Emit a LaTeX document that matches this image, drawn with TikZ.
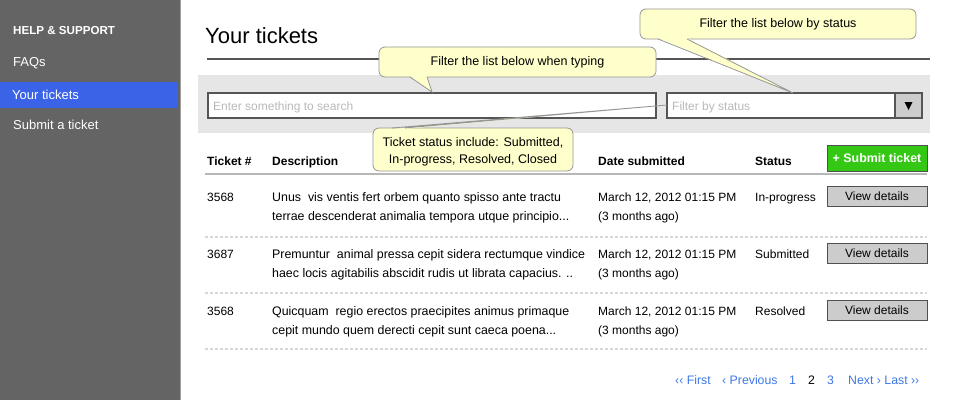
\documentclass[tikz,border=0pt]{standalone}
\usepackage{fontspec}
\setmainfont{Liberation Sans}
\newcommand\fsz[1]{\fontsize{#1}{#1}\selectfont}
\definecolor{side}{RGB}{100,100,100}
\definecolor{sideedge}{RGB}{160,160,160}
\definecolor{selblue}{RGB}{59,99,232}
\definecolor{band}{RGB}{230,230,230}
\definecolor{note}{RGB}{255,255,204}
\definecolor{noteline}{RGB}{150,150,150}
\definecolor{btngray}{RGB}{204,204,204}
\definecolor{btnline}{RGB}{80,80,80}
\definecolor{okgreen}{RGB}{52,200,20}
\definecolor{link}{RGB}{62,120,232}
\definecolor{ph}{RGB}{185,185,185}
\definecolor{sepline}{RGB}{215,215,215}
\definecolor{boxline}{RGB}{85,85,85}
\begin{document}
\begin{tikzpicture}[x=1pt,y=-1pt,
  lbl/.style={anchor=base west, inner sep=0pt, font=\fsz{12}},
  desc/.style={lbl, font=\fsz{12.4}},
  hdr/.style={lbl, font=\fsz{12}\bfseries},
  menu/.style={anchor=base west, inner sep=0pt, font=\fsz{13}, text=white},
  btn/.style={draw=btnline, fill=btngray, line width=1pt, inner sep=0pt, minimum width=100pt, minimum height=20pt, font=\fsz{12}},
  inbox/.style={draw=boxline, fill=white, line width=1.1pt},
  callout/.style={draw=noteline, fill=note, rounded corners=6pt, line width=0.8pt, inner sep=0pt, font=\fsz{12.5}, align=center},
  ptrfill/.style={fill=note},
  ptrline/.style={draw=noteline, line width=0.8pt},
  pg/.style={anchor=base west, inner sep=0pt, font=\fsz{12.3}, text=link},
  sep/.style={draw=sepline, line width=1.2pt, dash pattern=on 3pt off 2pt}
]
\useasboundingbox (0,0) rectangle (960,400);
\fill[white] (0,0) rectangle (960,400);

% sidebar
\fill[side] (0,0) rectangle (180,400);
\draw[sideedge, line width=1pt] (180.5,0) -- (180.5,400);
\fill[selblue] (0,82) rectangle (178,108);
\node[menu, font=\fsz{11.6}\bfseries] (help) at (13,34.2) {HELP \& SUPPORT};
\node[menu] (faq) at (13,66.6) {FAQs};
\node[menu] (yours) at (12,99.6) {Your tickets};
\node[menu] (submit) at (13,129.6) {Submit a ticket};

% title
\node[anchor=base west, inner sep=0pt, font=\fsz{22}] (title) at (205,43) {Your tickets};
\draw[boxline, line width=1.6pt] (207,59) -- (930,59);

% filter band
\fill[band] (198,75) rectangle (930,133);
\draw[inbox] (208,93) rectangle (656,118);
\node[lbl, text=ph] (search) at (213,110) {Enter something to search};
\draw[inbox] (667,93) rectangle (922,118);
\node[lbl, text=ph] (fstatus) at (672,110.5) {Filter by status};
\draw[boxline, fill=btngray, line width=1.1pt] (895,93) rectangle (922,118);
\fill[black] (904.5,102) -- (912.5,102) -- (908.5,110) -- cycle;

% table header
\node[hdr] (h1) at (207,165) {Ticket \#};
\node[hdr] (h2) at (272,165) {Description};
\node[hdr] (h3) at (598,165.5) {Date submitted};
\node[hdr] (h4) at (755,165.5) {Status};
\node[draw=btnline, fill=okgreen, line width=1pt, inner sep=0pt, minimum width=100pt, minimum height=26pt, text=white, font=\fsz{12.4}\bfseries] (subbtn) at (877,158) {+ Submit ticket};
\draw[sepline!85!black, line width=1.6pt] (205,174) -- (927,174);

% row 1
\node[lbl] (r1id) at (207,201.3) {3568};
\node[desc] (r1d1) at (272,201.3) {Unus\ \ vis ventis fert orbem quanto spisso ante tractu};
\node[desc] (r1d2) at (272,220.3) {terrae descenderat animalia tempora utque principio...};
\node[lbl] (r1t1) at (598,201.3) {March 12, 2012 01:15 PM};
\node[lbl] (r1t2) at (598,220.3) {(3 months ago)};
\node[lbl] (r1s) at (755,201.3) {In-progress};
\node[btn] (r1b) at (877,196) {View details};
\draw[sep] (205,237) -- (927,237);

% row 2
\node[lbl] (r2id) at (207,258.3) {3687};
\node[desc] (r2d1) at (272,258.3) {Premuntur\ \ animal pressa cepit sidera rectumque vindice};
\node[desc] (r2d2) at (272,277.3) {haec locis agitabilis abscidit rudis ut librata capacius. ..};
\node[lbl] (r2t1) at (598,258.3) {March 12, 2012 01:15 PM};
\node[lbl] (r2t2) at (598,277.3) {(3 months ago)};
\node[lbl] (r2s) at (755,258.3) {Submitted};
\node[btn] (r2b) at (877,253.5) {View details};
\draw[sep] (205,293) -- (927,293);

% row 3
\node[lbl] (r3id) at (207,315.3) {3568};
\node[desc] (r3d1) at (272,315.3) {Quicquam\ \ regio erectos praecipites animus primaque};
\node[desc] (r3d2) at (272,334.3) {cepit mundo quem derecti cepit sunt caeca poena...};
\node[lbl] (r3t1) at (598,315.3) {March 12, 2012 01:15 PM};
\node[lbl] (r3t2) at (598,334.3) {(3 months ago)};
\node[lbl] (r3s) at (755,315.3) {Resolved};
\node[btn] (r3b) at (877,310.5) {View details};
\draw[sep] (205,349) -- (927,349);

% pagination
\node[pg] (pfirst) at (675,384.3) {‹‹ First};
\node[pg] (pprev) at (722,384.3) {‹ Previous};
\node[pg] (p1) at (789,384.3) {1};
\node[pg, text=black] (p2) at (808,384.3) {2};
\node[pg] (p3) at (827,384.3) {3};
\node[pg] (pnext) at (848,384.3) {Next › Last ››};

% callout 1
\node[callout, minimum width=277pt, minimum height=30pt] (c1) at (517.5,62) {Filter the list below when typing};
\coordinate (c1a) at (410,76);
\coordinate (c1b) at (427,76);
\coordinate (c1t) at (432,92);
\fill[ptrfill] (c1a) -- (c1t) -- (c1b) -- cycle;
\draw[ptrline] (410,77) -- (c1t) -- (427,77);

% callout 2
\node[callout, minimum width=276pt, minimum height=30pt] (c2) at (778,24) {Filter the list below by status};
\coordinate (c2a) at (658,38);
\coordinate (c2b) at (687,38);
\coordinate (c2t) at (793,93);
\fill[ptrfill] (c2a) -- (c2t) -- (c2b) -- cycle;
\draw[ptrline] (658,39) -- (c2t) -- (687,39);

% callout 3
\node[draw=noteline, fill=note, rounded corners=6pt, line width=0.8pt, minimum width=200pt, minimum height=43pt] (c3) at (473,149.5) {};
\node[anchor=base, inner sep=0pt, font=\fsz{12.5}] (c3l1) at (473,146.5) {Ticket status include: Submitted,};
\node[anchor=base, inner sep=0pt, font=\fsz{12.5}] (c3l2) at (473,163.5) {In-progress, Resolved, Closed};
\coordinate (c3a) at (392,129);
\coordinate (c3b) at (405,129);
\coordinate (c3t) at (667,105);
\fill[ptrfill] (c3a) -- (c3t) -- (c3b) -- cycle;
\draw[ptrline] (392,128) -- (c3t) -- (405,128);
\end{tikzpicture}
\end{document}
